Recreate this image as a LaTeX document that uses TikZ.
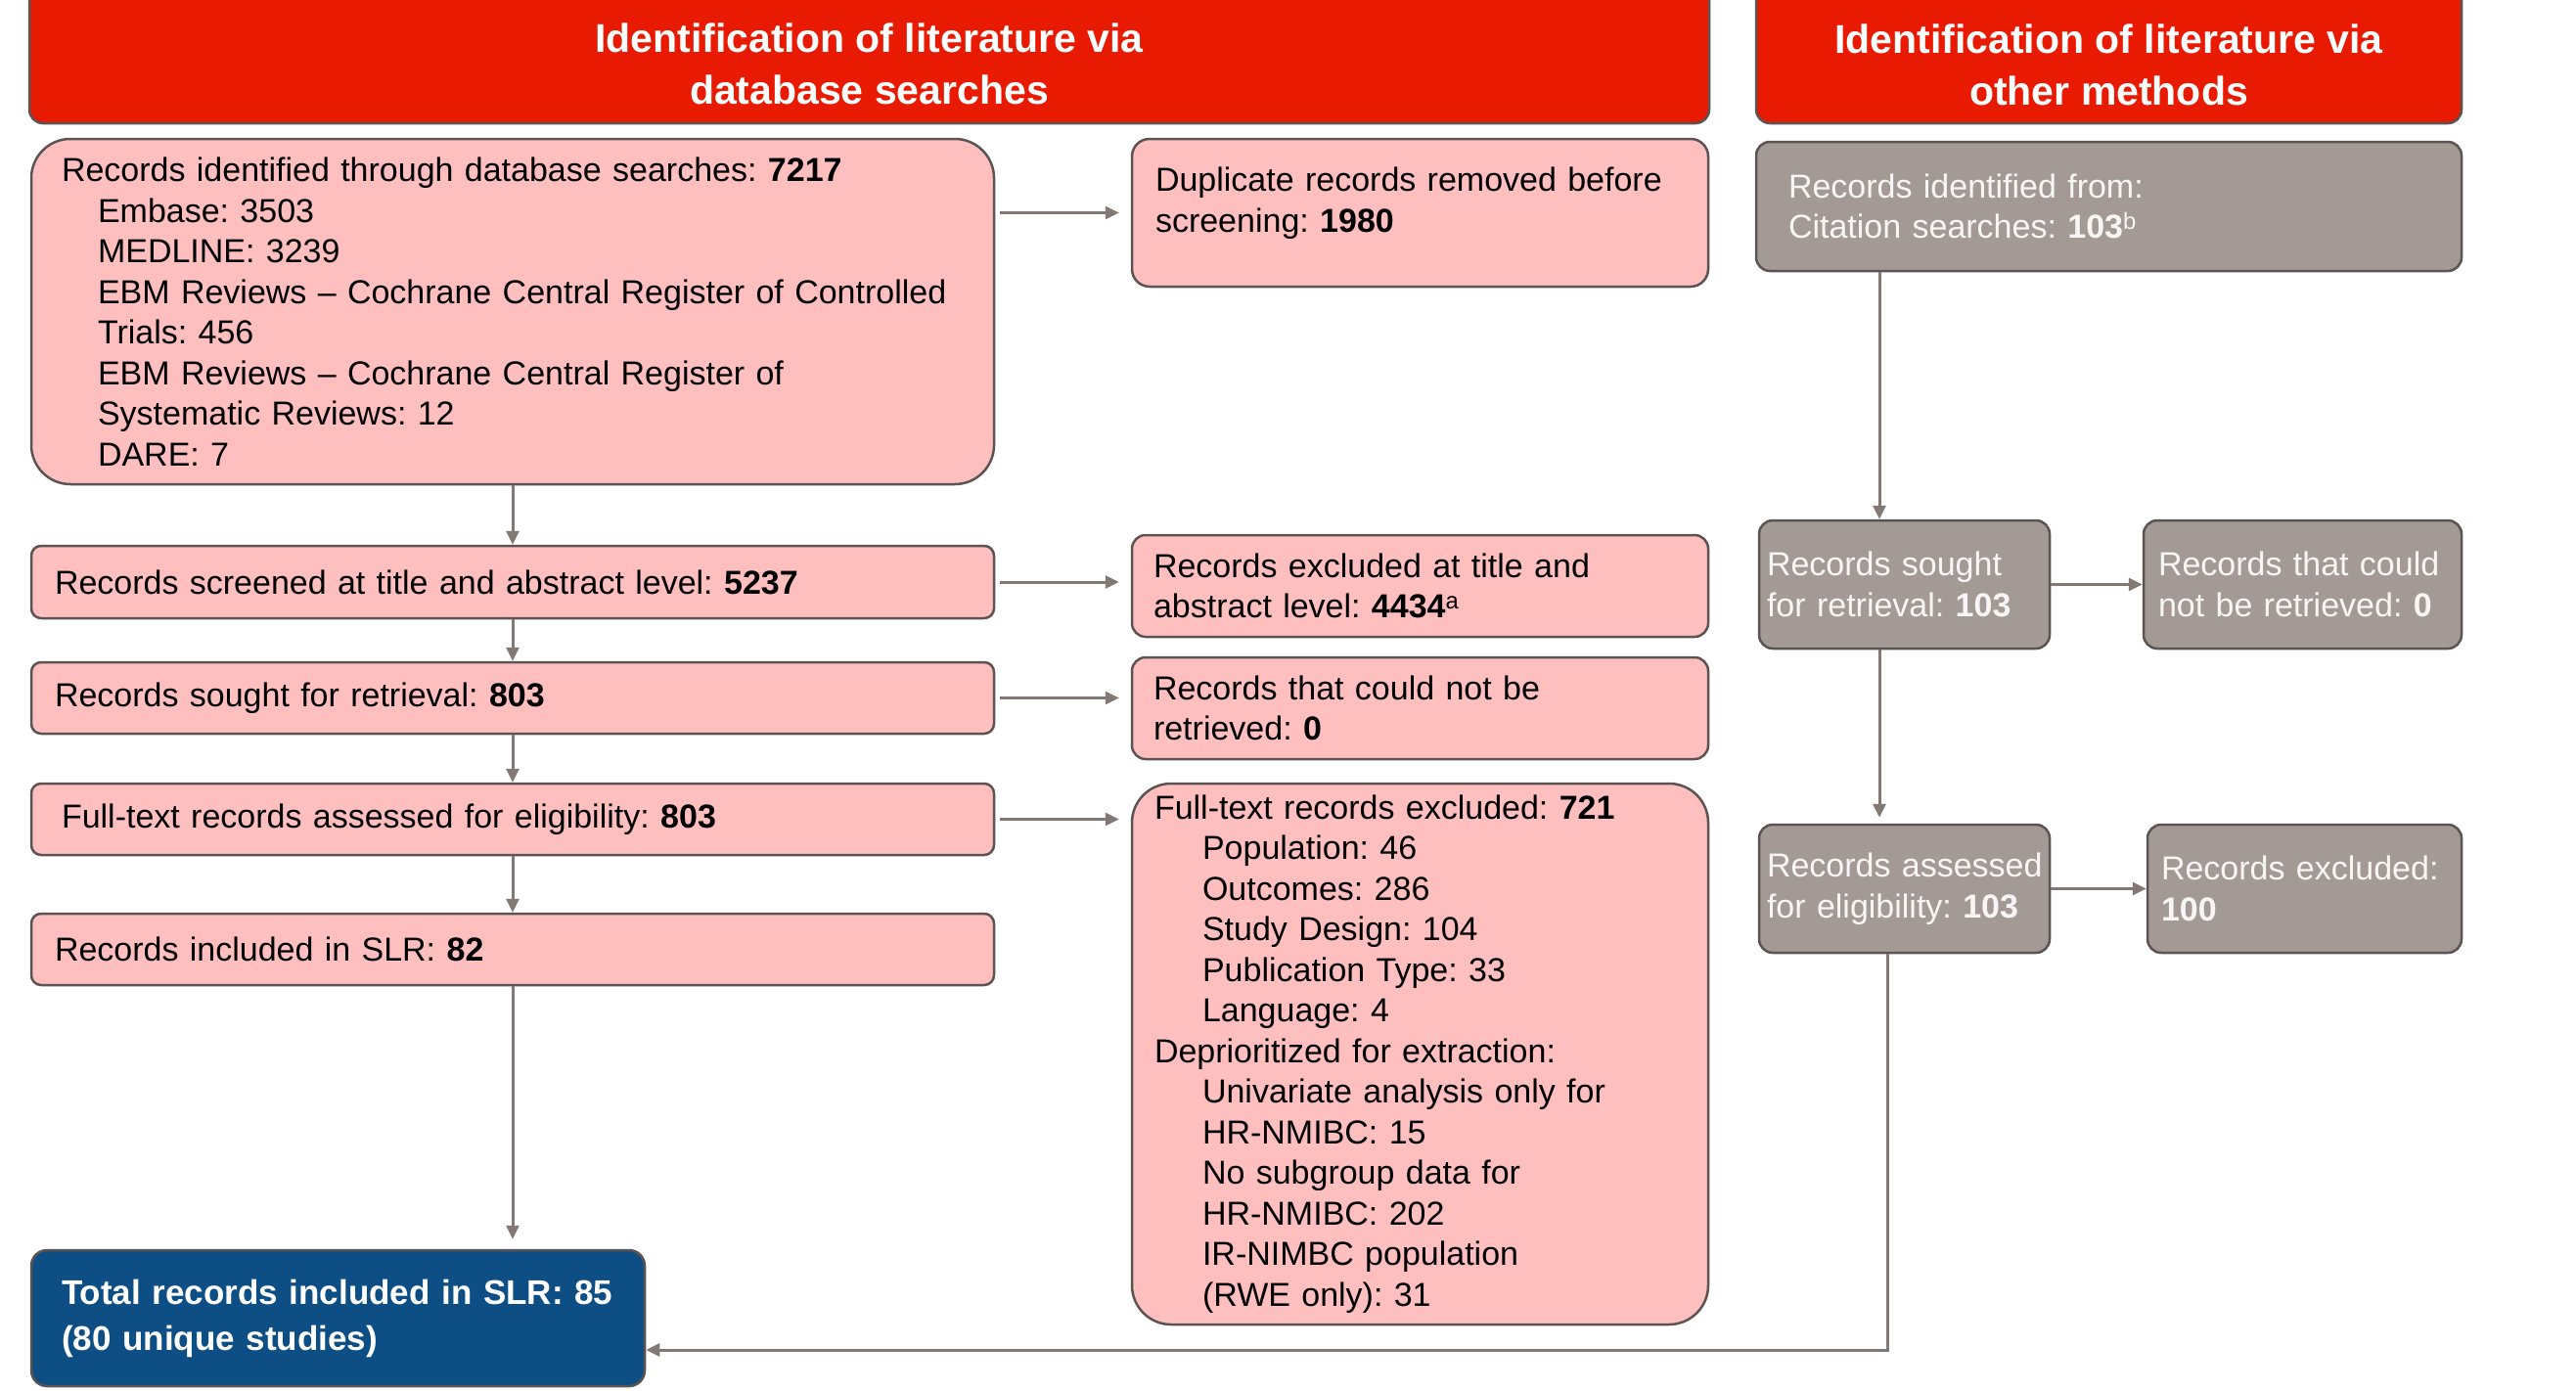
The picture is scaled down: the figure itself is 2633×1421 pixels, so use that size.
\documentclass[tikz,border=0pt]{standalone}
\usepackage{fontspec}
\setmainfont{Liberation Sans}
\usetikzlibrary{arrows.meta,calc}
\definecolor{hdred}{HTML}{E81A02}
\definecolor{pinkf}{HTML}{FFBFBF}
\definecolor{edgec}{HTML}{5B5452}
\definecolor{grayf}{HTML}{A39A95}
\definecolor{navyf}{HTML}{0D4F85}
\definecolor{arrc}{HTML}{837974}
\definecolor{gtext}{HTML}{F8F6F5}
\begin{document}
\frenchspacing
\hyphenpenalty=10000
\begin{tikzpicture}[x=1pt,y=-1pt,
  every node/.style={font=\fontsize{34}{41.5}\selectfont},
  basebox/.style={draw=edgec, line width=2.5pt, align=left, inner ysep=0pt},
  pbox/.style={basebox, fill=pinkf, text=black},
  gbox/.style={basebox, fill=grayf, text=gtext},
  nbox/.style={basebox, fill=navyf, text=white, font=\bfseries\fontsize{35}{47}\selectfont},
  hdbox/.style={draw=edgec, line width=2.5pt, fill=hdred, rounded corners=14pt},
  hdtext/.style={text=white, align=center, font=\bfseries\fontsize{41}{53}\selectfont},
  arr/.style={draw=arrc, line width=3pt, -{Triangle[length=14pt,width=13pt]}},
]
\useasboundingbox (0,0) rectangle (2633,1421);

% headers
\node[hdbox, minimum width=1717pt, minimum height=150pt] (hL) at (888.5,51) {};
\node[hdtext] (hLt) at (888.5,65.5) {Identification of literature via\\database searches};
\node[hdbox, minimum width=721pt, minimum height=150pt] (hR) at (2155.5,51) {};
\node[hdtext] (hRt) at (2155.5,66) {Identification of literature via\\other methods};

% left column
\node[pbox, rounded corners=40pt, minimum height=353pt, text width=922pt, inner xsep=31pt] (b1) at (524,318.5)
 {Records identified through database searches: \textbf{7217}\\
  \hspace*{37pt}Embase: 3503\\
  \hspace*{37pt}MEDLINE: 3239\\
  \hspace*{37pt}EBM Reviews – Cochrane Central Register of Controlled\\
  \hspace*{37pt}Trials: 456\\
  \hspace*{37pt}EBM Reviews – Cochrane Central Register of\\
  \hspace*{37pt}Systematic Reviews: 12\\
  \hspace*{37pt}DARE: 7};
\node[pbox, rounded corners=10pt, minimum height=74pt, text width=936pt, inner xsep=24pt] (scr) at (524,595)
 {Records screened at title and abstract level: \textbf{5237}};
\node[pbox, rounded corners=10pt, minimum height=73pt, text width=936pt, inner xsep=24pt] (sought) at (524,713.5)
 {Records sought for retrieval: \textbf{803}};
\node[pbox, rounded corners=10pt, minimum height=73pt, text width=922pt, inner xsep=31pt] (fta) at (524,837.5)
 {Full-text records assessed for eligibility: \textbf{803}};
\node[pbox, rounded corners=10pt, minimum height=73pt, text width=936pt, inner xsep=24pt] (inc) at (524,970.5)
 {Records included in SLR: \textbf{82}};
\node[nbox, rounded corners=16pt, minimum height=139pt, text width=565pt, inner xsep=31pt] (total) at (345.5,1347.5)
 {Total records included in SLR: 85\\(80 unique studies)};

% middle column
\node[pbox, rounded corners=18pt, minimum height=151pt, text width=541pt, inner xsep=24pt] (dup) at (1451.5,217.5)
 {Duplicate records removed before\\screening: \textbf{1980}\\[-15pt]\mbox{}};
\node[pbox, rounded corners=14pt, minimum height=104pt, text width=545pt, inner xsep=22pt] (exTA) at (1451.5,599)
 {Records excluded at title and\\abstract level: \textbf{4434}\textsuperscript{a}};
\node[pbox, rounded corners=14pt, minimum height=104pt, text width=545pt, inner xsep=22pt] (cnr) at (1451.5,724)
 {Records that could not be\\retrieved: \textbf{0}};
\node[pbox, rounded corners=40pt, minimum height=553pt, text width=543pt, inner xsep=23pt] (ftx) at (1451.5,1077.5)
 {Full-text records excluded: \textbf{721}\\
  \hspace*{49pt}Population: 46\\
  \hspace*{49pt}Outcomes: 286\\
  \hspace*{49pt}Study Design: 104\\
  \hspace*{49pt}Publication Type: 33\\
  \hspace*{49pt}Language: 4\\
  Deprioritized for extraction:\\
  \hspace*{49pt}Univariate analysis only for\\
  \hspace*{49pt}HR-NMIBC: 15\\
  \hspace*{49pt}No subgroup data for\\
  \hspace*{49pt}HR-NMIBC: 202\\
  \hspace*{49pt}IR-NIMBC population\\
  \hspace*{49pt}(RWE only): 31};

% right column
\node[gbox, rounded corners=14pt, minimum height=132pt, text width=655pt, inner xsep=33pt] (g1) at (2155.5,211)
 {Records identified from:\\Citation searches: \textbf{103}\textsuperscript{b}};
\node[gbox, rounded corners=14pt, minimum height=131pt, text width=281pt, inner xsep=8pt] (g2) at (1946.5,597.5)
 {\mbox{Records sought}\\\mbox{for retrieval: \textbf{103}}};
\node[gbox, rounded corners=14pt, minimum height=131pt, text width=295pt, inner xsep=15pt] (g3) at (2353.5,597.5)
 {\mbox{Records that could}\\\mbox{not be retrieved: \textbf{0}}};
\node[gbox, rounded corners=14pt, minimum height=131pt, text width=281pt, inner xsep=8pt] (g4) at (1946.5,908.5)
 {\mbox{Records assessed}\\\mbox{for eligibility: \textbf{103}}};
\node[gbox, rounded corners=14pt, minimum height=131pt, text width=293pt, inner xsep=14pt] (g5) at (2355.5,908.5)
 {\mbox{Records excluded:}\\\textbf{100}};

% connectors
\draw[arr, shorten <=5pt, shorten >=12pt] (b1.east |- dup.west) -- (dup.west);
\draw[arr] (b1) -- (scr);
\draw[arr] (scr) -- (sought);
\draw[arr] (sought) -- (fta);
\draw[arr] (fta) -- (inc);
\draw[arr, shorten >=10pt] (inc.south) -- (inc.south |- total.north);
\draw[arr, shorten <=5pt, shorten >=12pt] (scr.east) -- (scr.east -| exTA.west);
\draw[arr, shorten <=5pt, shorten >=12pt] (sought.east) -- (sought.east -| cnr.west);
\draw[arr, shorten <=5pt, shorten >=12pt] (fta.east) -- (fta.east -| ftx.west);

\coordinate (gx) at (1921,0);
\draw[arr] (gx |- g1.south) -- (gx |- g2.north);
\draw[arr, shorten >=6pt] (gx |- g2.south) -- (gx |- g4.north);
\draw[arr] (g2.east) -- (g3.west);
\draw[arr] (g4.east) -- (g5.west);
\coordinate (rx) at (1929,1380);
\draw[arr, rounded corners=0pt] (rx |- g4.south) -- (rx) -- (rx -| total.east);
\end{tikzpicture}
\end{document}
